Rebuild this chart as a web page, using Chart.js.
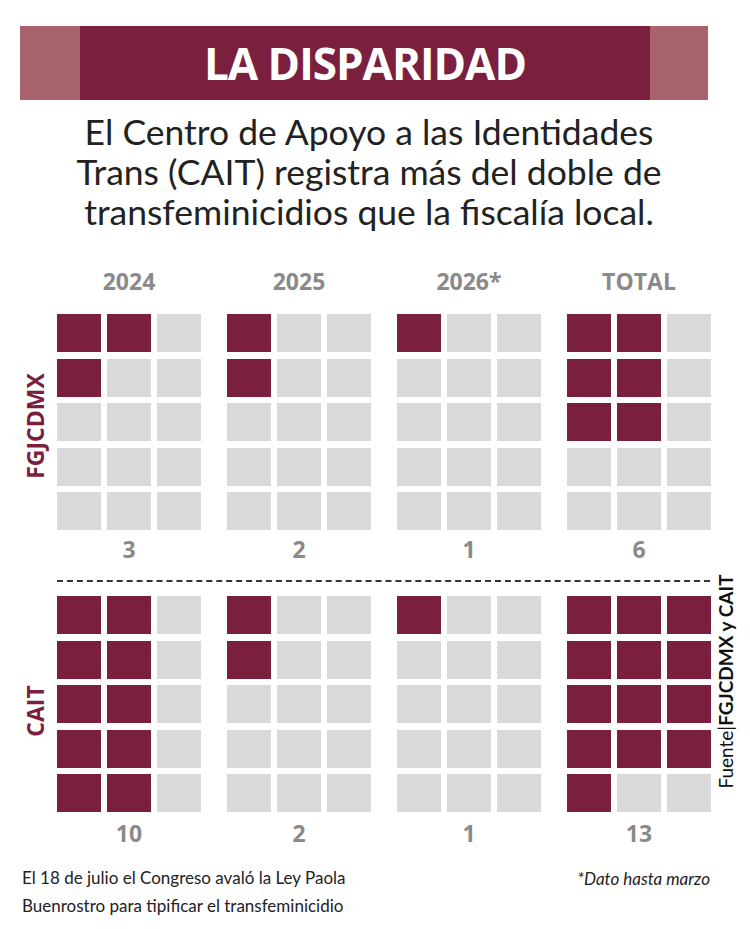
<!DOCTYPE html>
<html><head><meta charset="utf-8">
<script src="https://cdn.jsdelivr.net/npm/chart.js"></script>
<style>
body{margin:0;width:750px;height:929px;background:#fff;font-family:"Noto Sans",sans-serif;position:relative;overflow:hidden}
.a{position:absolute}
#c{position:absolute;left:-21px;top:-23px}
.yr,.num{position:absolute;width:150px;text-align:center;color:#8a8a8a;font-weight:bold;font-size:23px;font-family:"Open Sans",sans-serif}
.side{position:absolute;color:#7b1f3e;font-weight:bold;font-size:23px;transform:rotate(-90deg);transform-origin:center;width:200px;text-align:center;font-family:"Open Sans",sans-serif}
</style></head><body>
<div class="a" style="left:20px;top:26px;width:688px;height:74px;background:#a8636f"></div>
<div class="a" style="left:80px;top:26px;width:570px;height:74px;background:#7b1f3e;color:#fff;font:bold 44px 'Open Sans',sans-serif;text-align:center;line-height:74px;letter-spacing:-1px">LA DISPARIDAD</div>
<div class="a" style="left:0;top:112px;width:738px;text-align:center;font-size:35.5px;line-height:40px;color:#222;font-family:Lato,sans-serif">El Centro de Apoyo a las Identidades<br>Trans (CAIT) registra más del doble de<br>transfeminicidios que la fiscalía local.</div>
<div class="a" style="left:57px;top:580px;width:653px;border-top:2px dashed #333"></div>
<div class="side" style="left:-65px;top:410px">FGJCDMX</div>
<div class="side" style="left:-65px;top:695px">CAIT</div>
<div class="a" style="left:590px;top:670px;width:270px;transform:rotate(-90deg);transform-origin:center;text-align:center;font-size:19px;color:#111;font-family:Lato,sans-serif">Fuente|<b>FGJCDMX y CAIT</b></div>
<div class="a" style="left:22px;top:864px;font-size:17px;line-height:28px;color:#222;font-family:Lato,sans-serif">El 18 de julio el Congreso avaló la Ley Paola<br>Buenrostro para tipificar el transfeminicidio</div>
<div class="a" style="left:540px;top:868px;width:170px;text-align:right;font-size:17px;font-style:italic;color:#222;font-family:Lato,sans-serif">*Dato hasta marzo</div>
<div id="labels"></div>
<canvas id="c" width="800" height="979"></canvas>
<script>
// Daten
const groups = ["2024", "2025", "2026*", "TOTAL"];
const fgjValues = [3, 2, 1, 6];
const caitValues = [10, 2, 1, 13];
const cellsPerCol = 3, cellsPerRow = 5;

const maroon = '#7b1f3e', grey = '#d9d9db';

// Zellenbild (rechteckig)
function cellImage(color) {
  const c = document.createElement('canvas');
  c.width = 44; c.height = 38;
  const x = c.getContext('2d');
  x.fillStyle = color; x.fillRect(0, 0, 44, 38);
  return c;
}
const imgOn = cellImage(maroon), imgOff = cellImage(grey);

// Reihenfolge: 2 senkrecht, bis 10 in zwei Spalten, sonst drei
function filled(n, r, c) {
  if (n === 2) return c === 0 && r < 2;
  const cols = n <= 10 ? 2 : 3;
  if (c >= cols) return false;
  return r * cols + c < n;
}

const pts = [], styles = [];
const groupStep = 3.4, blockStep = 6.34;
[fgjValues, caitValues].forEach((vals, b) => {
  vals.forEach((n, g) => {
    for (let r = 0; r < cellsPerRow; r++)
      for (let c = 0; c < cellsPerCol; c++) {
        pts.push({x: g * groupStep + c, y: b * blockStep + r});
        styles.push(filled(n, r, c) ? imgOn : imgOff);
      }
  });
});

const labelDiv = document.getElementById('labels');
groups.forEach((g, i) => {
  const cx = 79 + 170 * i + 50;
  labelDiv.innerHTML += `<div class="yr" style="left:${cx-75}px;top:265px">${g}</div>`;
  labelDiv.innerHTML += `<div class="num" style="left:${cx-75}px;top:533px">${fgjValues[i]}</div>`;
  labelDiv.innerHTML += `<div class="num" style="left:${cx-75}px;top:817px">${caitValues[i]}</div>`;
});

new Chart(document.getElementById('c'), {
  type: 'scatter',
  data: {datasets: [{data: pts, pointStyle: styles, pointRadius: 22, pointHoverRadius: 22}]},
  options: {
    responsive: false, animation: false, events: [],
    layout: {padding: 0, autoPadding: false},
    plugins: {legend: {display: false}, tooltip: {enabled: false}},
    scales: {
      x: {display: false, min: -2, max: 14},
      y: {display: false, reverse: true, min: -8, max: 14}
    }
  }
});
</script>
</body></html>
